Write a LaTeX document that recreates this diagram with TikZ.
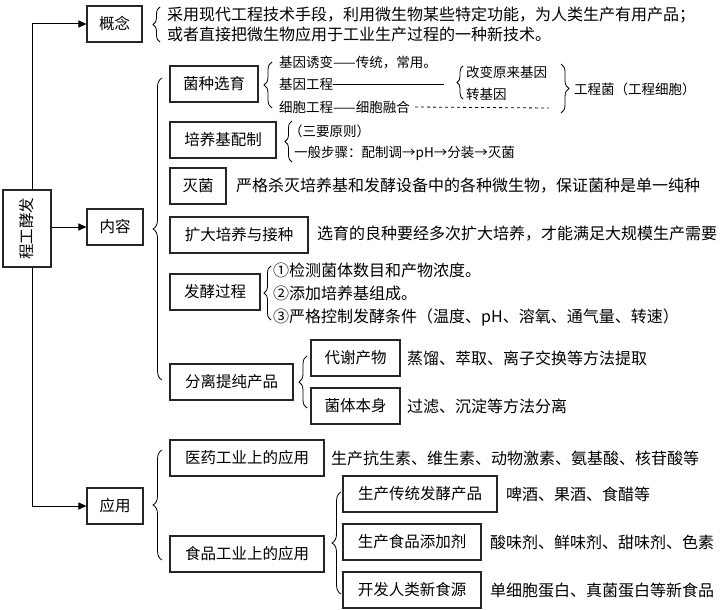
\documentclass[tikz,border=0pt]{standalone}
\usepackage{fontspec}
\setmainfont{Noto Sans CJK SC}
\usetikzlibrary{arrows.meta,decorations.pathreplacing}
\tikzset{%
  box/.style   = {shape=rectangle, draw=black!85, line width=1.1pt,%
                  minimum height=36pt, inner sep=0pt,%
                  font=\fontsize{15.5}{18}\selectfont},%
  txt/.style   = {anchor=west, inner sep=0pt, align=left,%
                  font=\fontsize{16}{20}\selectfont},%
  small/.style = {anchor=west, inner sep=0pt,%
                  font=\fontsize{13.5}{16}\selectfont},%
  brc/.style   = {decorate, decoration={brace,amplitude=#1}, line width=0.8pt},%
  brc/.default = 8pt,%
  arr/.style   = {-{Triangle[length=8pt,width=7pt]}, line width=1pt}%
}
\begin{document}
\begin{tikzpicture}[x=1pt,y=-1pt]
	\path[fill=white,use as bounding box] (0,0) rectangle (728,610);
	% main levels
	\node[box,minimum width=48pt,minimum height=77pt] (main) at (27,228.5) {\rotatebox{90}{程工酵发}};
	\node[box,minimum width=55pt] (concept) at (114.5,24) {概念};
	\node[box,minimum width=56pt] (content) at (115,227) {内容};
	\node[box,minimum width=56pt] (apply) at (115,506) {应用};
	\draw[arr] ([xshift=5pt]main.north) |- (concept.west);
	\draw[arr] (main.east |- content) -- (content.west);
	\draw[arr] ([xshift=5pt]main.south) |- (apply.west);
	% concept
	\draw[brc=7pt] (160,42) -- (160,7);
	\node[txt] (def) at (167,24) {采用现代工程技术手段，利用微生物某些特定功能，为人类生产有用产品；\\或者直接把微生物应用于工业生产过程的一种新技术。};
	% content
	\draw[brc=9pt] (162,380) -- (162,78);
	\node[box,minimum width=88pt] (select) at (214,84) {菌种选育};
	\node[box,minimum width=106pt] (medium) at (223,140) {培养基配制};
	\node[box,minimum width=56pt] (steril) at (198,186) {灭菌};
	\node[box,minimum width=138pt] (expand) at (239,235) {扩大培养与接种};
	\node[box,minimum width=90pt] (ferment) at (215,292) {发酵过程};
	\node[box,minimum width=123pt] (purify) at (231.5,382) {分离提纯产品};
	% strain selection
	\draw[brc] (272,108) -- (272,62);
	\node[small] (mut) at (279,62) {基因诱变——传统，常用。};
	\node[small] (gene) at (279,84) {基因工程};
	\node[small] (fuse) at (279,107) {细胞工程——细胞融合};
	\coordinate (geneend) at (444,84);
	\coordinate (fuseend) at (549,108);
	\draw[line width=0.8pt] (gene.east) -- (geneend);
	\draw[line width=0.8pt,dashed] ([xshift=5pt]fuse.east) -- (fuseend);
	\draw[brc=6pt] (463,99) -- (463,66);
	\node[small] (change) at (466,72) {改变原来基因};
	\node[small] (trans) at (466,94) {转基因};
	\draw[brc] (561,64) -- (561,113);
	\node[small] (eng) at (574,89) {工程菌（工程细胞）};
	% medium
	\draw[brc=7pt] (292,162) -- (292,121);
	\node[small] (rule) at (289,131) {（三要原则）};
	\node[small] (steps) at (294,153) {一般步骤：配制调→pH→分装→灭菌};
	% sterilisation, expansion
	\node[txt] (sterd) at (236,186) {严格杀灭培养基和发酵设备中的各种微生物，保证菌种是单一纯种};
	\node[txt] (expd) at (317,234) {选育的良种要经多次扩大培养，才能满足大规模生产需要};
	% fermentation
	\draw[brc=7pt] (271,320) -- (271,266);
	\node[txt] (f1) at (273,270) {①检测菌体数目和产物浓度。};
	\node[txt] (f2) at (273,293) {②添加培养基组成。};
	\node[txt] (f3) at (273,317) {③严格控制发酵条件（温度、pH、溶氧、通气量、转速）};
	% purification
	\draw[brc] (307,408) -- (307,356);
	\node[box,minimum width=89pt] (metab) at (355.5,358) {代谢产物};
	\node[box,minimum width=89pt] (cells) at (355.5,406) {菌体本身};
	\node[txt] (metd) at (407,358) {蒸馏、萃取、离子交换等方法提取};
	\node[txt] (celd) at (407,406) {过滤、沉淀等方法分离};
	% application
	\draw[brc=9pt] (162,560) -- (162,450);
	\node[box,minimum width=154pt] (pharma) at (247,458) {医药工业上的应用};
	\node[box,minimum width=154pt] (food) at (247,554) {食品工业上的应用};
	\node[txt] (phad) at (331,458) {生产抗生素、维生素、动物激素、氨基酸、核苷酸等};
	\draw[brc=9pt] (341,594) -- (341,492);
	\node[box,minimum width=154pt] (trad) at (420,494) {生产传统发酵产品};
	\node[box,minimum width=138pt] (addit) at (412,542) {生产食品添加剂};
	\node[box,minimum width=138pt] (newfood) at (412,590) {开发人类新食源};
	\node[txt] (tradd) at (506,494) {啤酒、果酒、食醋等};
	\node[txt] (addd) at (490,542) {酸味剂、鲜味剂、甜味剂、色素};
	\node[txt] (newd) at (490,590) {单细胞蛋白、真菌蛋白等新食品};
\end{tikzpicture}
\end{document}
